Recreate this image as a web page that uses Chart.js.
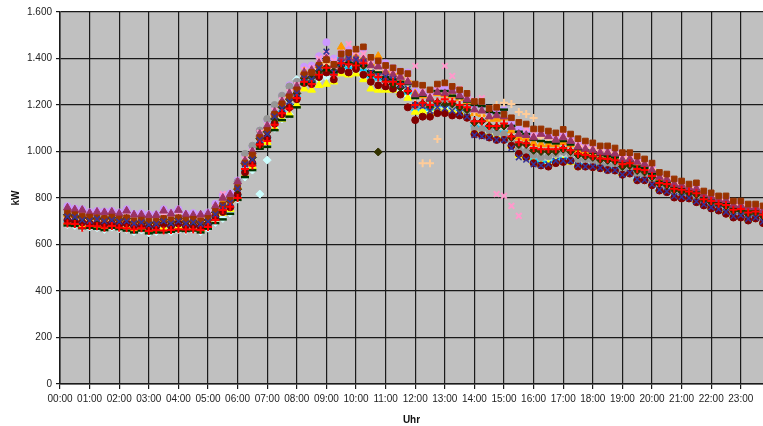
<!DOCTYPE html>
<html>
<head>
<meta charset="utf-8">
<script src="https://cdn.jsdelivr.net/npm/chart.js@4.4.1/dist/chart.umd.min.js"></script>
<style>
  html, body { margin: 0; padding: 0; background: #fff; overflow: hidden; }
  #wrap { width: 763px; height: 426px; }
  canvas { display: block; }
</style>
</head>
<body>
<div id="wrap"><canvas id="myChart" width="763" height="426"></canvas></div>
<script>
// quarter-hour load profiles, kW (0:15 ... 24:00)

const hourLabels = ['00:00','01:00','02:00','03:00','04:00','05:00','06:00','07:00','08:00','09:00','10:00','11:00',
                    '12:00','13:00','14:00','15:00','16:00','17:00','18:00','19:00','20:00','21:00','22:00','23:00'];

const redPlus = [690,688,672,680,678,672,680,672,670,664,670,658,662,660,662,666,664,664,662,675,
  705,748,762,800,925,940,1030,1045,1115,1165,1185,1230,
  1300,1290,1330,1360,1330,1380,1375,1370,1380,1330,1320,1300,1300,1290,1260,
  1200,1210,1200,1215,1225,1215,1200,1190,1130,1130,1110,1110,1120,
  1065,1040,1035,1015,1010,1010,1010,1015,1005,990,985,980,970,968,962,945,950,925,920,895,
  865,860,840,835,828,820,795,787,775,770,750,753,738,742,728,725];

const blueX = [720,718,705,702,710,700,705,698,700,690,695,685,688,700,690,700,690,695,688,698,
  730,765,780,840,945,965,1050,1075,1150,1185,1215,1250,
  1315,1310,1360,1430,1340,1380,1400,1395,1385,1340,1325,1320,1310,1285,1270,
  1200,1195,1175,1190,1185,1175,1165,1150,1070,1065,1060,1050,1050,
  1015,975,965,945,940,945,960,960,960,940,935,935,930,920,920,900,908,880,878,858,
  835,828,808,805,800,785,772,760,752,740,722,725,710,715,698,698];

const brownSquare = [735,728,722,718,715,712,718,710,715,702,705,700,700,712,706,715,705,708,702,712,
  742,770,790,845,950,985,1060,1090,1160,1205,1235,1265,
  1330,1340,1370,1395,1375,1420,1425,1440,1450,1405,1390,1370,1360,1345,1335,
  1290,1285,1265,1290,1295,1280,1265,1250,1215,1215,1185,1190,1160,
  1145,1125,1118,1097,1097,1088,1080,1095,1075,1055,1045,1037,1024,1024,1015,995,995,980,968,950,
  910,903,882,873,860,865,830,822,809,809,787,787,774,774,766,760];

const maroonTri = [758,750,748,735,740,738,740,732,745,728,728,725,726,745,732,748,728,726,728,732,
  765,800,815,870,960,1000,1075,1110,1170,1215,1250,1280,
  1340,1350,1380,1400,1370,1400,1405,1400,1395,1370,1365,1340,1330,1320,1300,
  1245,1250,1230,1255,1250,1260,1240,1225,1180,1175,1150,1155,1150,
  1105,1075,1070,1060,1075,1065,1050,1060,1045,1020,1010,1005,995,995,990,965,968,955,945,920,
  890,880,860,855,845,840,815,805,795,790,770,768,760,760,745,742];

const darkRedDot = [705,700,695,690,690,688,692,686,690,680,684,675,678,688,680,690,680,682,676,688,
  720,740,760,815,910,950,1030,1060,1120,1160,1190,1225,
  1295,1290,1320,1340,1310,1350,1340,1355,1330,1300,1285,1280,1270,1245,1190,
  1135,1150,1150,1165,1165,1155,1155,1145,1075,1070,1060,1050,1050,
  1025,990,975,950,940,935,950,955,960,935,935,932,928,920,918,900,905,876,876,855,
  832,825,802,798,798,782,768,755,746,732,716,716,703,712,692,692];

const oliveDiamond = [728,722,715,712,712,710,715,705,712,696,700,692,695,708,698,712,698,700,694,705,
  738,765,785,838,948,975,1055,1085,1140,1190,1225,1250,
  1315,1320,1345,1360,1345,1375,1380,1375,1370,1330,998,1310,1290,1275,1260,
  1200,1205,1190,1210,1200,1205,1190,1180,1125,1130,1110,1105,1110,
  1060,1030,1030,1005,1000,1000,1000,1010,1000,985,980,975,965,962,958,935,940,918,912,890,
  862,855,835,828,820,815,790,782,770,765,745,745,730,735,722,720];

const grayDot = [712,706,700,698,698,696,700,692,698,686,690,682,684,694,688,698,688,690,686,700,
  738,775,800,870,990,1025,1090,1140,1200,1240,1280,1300,
  1320,1310,1340,1370,1350,1380,1385,1385,1370,1335,1330,1310,1300,1290,1265,
  1195,1200,1195,1205,1210,1200,1190,1175,1100,1095,1090,1080,1075,
  1040,1010,1000,985,975,980,990,1000,990,965,965,960,948,940,940,920,925,900,895,875,
  850,842,820,815,810,800,780,770,762,752,730,732,718,722,705,705];

const yellowTri = [695,690,680,684,682,676,684,678,676,668,672,662,665,672,668,675,670,670,666,680,
  712,735,752,805,900,935,1025,1040,1100,1140,1160,1200,
  1270,1265,1285,1290,1300,1335,1330,1335,1310,1270,1265,1265,1265,1250,1230,
  1170,1175,1165,1185,1180,1175,1170,1160,1090,1080,1075,1065,1065,
  1025,985,975,955,945,945,955,958,955,935,938,935,930,925,922,905,910,880,880,860,
  838,830,810,805,802,790,775,762,752,742,722,722,708,716,698,698];

const orangeTri = [730,725,718,712,715,710,712,706,712,700,702,695,698,710,702,712,700,702,698,708,
  745,780,795,850,960,990,1070,1100,1165,1210,1245,1275,
  1345,1345,1370,1390,1360,1450,1410,1410,1400,1380,1410,1350,1340,1325,1310,
  1250,1240,1230,1250,1245,1240,1230,1215,1165,1160,1140,1140,1145,
  1090,1060,1055,1035,1030,1030,1030,1040,1030,1005,1000,998,990,985,980,958,960,945,935,915,
  880,875,855,848,842,835,808,800,790,785,765,765,752,755,740,738];

const greenDash = [682,680,670,672,668,662,672,666,660,652,660,648,652,652,655,660,658,660,652,668,
  692,708,732,792,890,920,1012,1020,1092,1135,1150,1190,
  1290,1300,1330,1350,1340,1370,1380,1370,1370,1345,1340,1320,1310,1300,1290,
  1230,1240,1220,1260,1260,1240,1230,1215,1200,1195,1170,1165,1180,
  1110,1085,1075,1050,1045,1040,1035,1045,1030,1010,1005,995,985,980,975,955,958,935,930,905,
  870,865,845,838,830,825,800,790,780,775,755,755,742,745,730,728];

const cyanDiamond = [685,682,672,675,672,665,675,668,665,655,662,650,655,658,656,662,660,662,655,670,
  695,712,735,795,890,920,817,963,1100,1140,1160,1310,
  1300,1295,1310,1320,1310,1345,1340,1345,1320,1300,1290,1280,1275,1260,1240,
  1180,1185,1175,1195,1190,1185,1175,1165,1100,1090,1085,1075,1075,
  1035,995,985,960,950,950,960,965,960,940,938,935,935,925,925,905,912,885,880,860,
  840,832,812,806,802,790,775,765,755,745,725,725,712,716,700,700];

const pinkStar = [740,735,730,725,725,722,726,718,725,712,715,708,710,725,715,728,712,715,710,720,
  760,817,805,855,965,1000,1080,1110,1175,1220,1255,1285,
  1350,1360,1400,1420,1390,1425,1462,1430,1420,1390,1380,1360,1350,1335,1320,
  1368,1270,1250,1275,1368,1325,1270,1245,1220,1230,1185,817,809,
  766,723,1100,1080,1075,1070,1060,1075,1060,1040,1030,1020,1010,1010,1000,985,985,970,958,940,
  895,890,870,862,850,850,820,810,800,800,778,778,765,765,752,750];

const peachPlus = [715,710,705,700,702,698,702,695,700,688,692,685,688,698,690,700,690,692,688,698,
  730,760,780,838,950,980,1065,1095,1150,1195,1230,1260,
  1325,1330,1355,1375,1355,1390,1395,1400,1385,1350,1345,1330,1320,1305,1290,
  1230,950,950,1054,1250,1240,1230,1215,1170,1165,1150,1200,1210,
  1204,1170,1161,1144,1060,1055,1050,1060,1050,1025,1020,1015,1005,1000,995,972,975,955,948,925,
  890,885,862,855,848,842,815,808,795,790,770,770,758,760,745,744];

const lilacDot = [765,755,752,740,745,742,745,738,752,732,735,730,730,752,738,752,732,735,730,738,
  775,812,820,875,985,1020,1090,1135,1195,1240,1285,1305,
  1365,1370,1410,1470,1400,1420,1440,1420,1440,1400,1390,1380,1360,1345,1340,
  1260,1255,1245,1270,1275,1270,1255,1240,1200,1200,1170,1175,1180,
  1120,1095,1090,1070,1075,1065,1060,1075,1055,1035,1025,1020,1010,1008,1000,980,982,965,955,935,
  895,890,870,862,852,852,822,815,802,800,780,780,768,768,758,755];

const skyDash = [700,695,690,688,688,684,690,682,686,676,680,672,676,684,678,688,678,680,674,686,
  715,740,760,812,915,945,1035,1060,1125,1170,1200,1235,
  1310,1310,1335,1350,1330,1400,1360,1365,1350,1320,1310,1300,1290,1275,1250,
  1180,1185,1180,1195,1200,1190,1180,1170,1110,1105,1095,1085,1085,
  1040,1000,990,965,955,955,965,970,960,945,942,940,935,928,925,905,908,882,880,855,
  832,825,802,798,796,780,768,754,744,732,715,716,700,710,690,690];

// first entry is drawn on top by Chart.js
const seriesList = [
  {data: redPlus,      color: 'rgb(255,0,0)',     style: 'cross',    r: 4,   bw: 2},
  {data: blueX,        color: 'rgb(51,51,153)',   style: 'crossRot', r: 4,   bw: 1.5},
  {data: brownSquare,  color: 'rgb(153,51,0)',    style: 'rect',     r: 4,   bw: 1},
  {data: maroonTri,    color: 'rgb(153,51,102)',  style: 'triangle', r: 4.5, bw: 1},
  {data: greenDash,    color: 'rgb(0,51,0)',      style: 'line',     r: 4,   bw: 2.5},
  {data: oliveDiamond, color: 'rgb(51,51,0)',     style: 'rectRot',  r: 4,   bw: 1},
  {data: darkRedDot,   color: 'rgb(128,0,0)',     style: 'circle',   r: 3.5, bw: 1},
  {data: pinkStar,     color: 'rgb(255,153,204)', style: 'crossRot', r: 4,   bw: 2},
  {data: peachPlus,    color: 'rgb(255,204,153)', style: 'cross',    r: 4,   bw: 2},
  {data: orangeTri,    color: 'rgb(255,153,0)',   style: 'triangle', r: 4.5, bw: 1},
  {data: grayDot,      color: 'rgb(150,150,150)', style: 'circle',   r: 3.5, bw: 1},
  {data: yellowTri,    color: 'rgb(255,255,0)',   style: 'triangle', r: 4.5, bw: 1},
  {data: skyDash,      color: 'rgb(0,204,255)',   style: 'line',     r: 4,   bw: 2.5},
  {data: cyanDiamond,  color: 'rgb(204,255,255)', style: 'rectRot',  r: 4,   bw: 1},
  {data: lilacDot,     color: 'rgb(204,153,255)', style: 'circle',   r: 3.5, bw: 1},
];

// quarter hour index -> hours
function toPoints(values) {
  return values.map((v, i) => ({x: (i + 1) / 4, y: v}));
}

function germanNumber(v) {
  return String(v).replace(/\B(?=(\d{3})+(?!\d))/g, '.');
}

const plotBackground = {
  id: 'plotBackground',
  beforeDraw(chart) {
    const a = chart.chartArea;
    const ctx = chart.ctx;
    ctx.save();
    ctx.fillStyle = '#c0c0c0';
    ctx.fillRect(a.left, a.top, a.right - a.left, a.bottom - a.top);
    ctx.restore();
  }
};

const data = {
  datasets: seriesList.map(s => ({
    data: toPoints(s.data),
    pointStyle: s.style,
    pointRadius: s.r,
    pointBorderWidth: s.bw,
    backgroundColor: s.color,
    borderColor: s.color,
    showLine: false,
  }))
};

const config = {
  type: 'scatter',
  data: data,
  options: {
    responsive: false,
    animation: false,
    layout: {autoPadding: false, padding: {top: 12, right: 0, bottom: 0, left: 0}},
    plugins: {legend: {display: false}, tooltip: {enabled: false}},
    scales: {
      x: {
        type: 'linear',
        min: 0,
        max: 23.75,
        afterBuildTicks: axis => {
          axis.ticks = hourLabels.map((l, i) => ({value: i}));
        },
        ticks: {
          stepSize: 1,
          autoSkip: false,
          maxRotation: 0,
          padding: 4,
          color: '#222',
          font: {family: 'Liberation Sans, Arial, sans-serif', size: 10},
          callback: v => hourLabels[v],
        },
        grid: {color: '#1a1a1a', lineWidth: 1.2, tickLength: 5, tickColor: '#1a1a1a'},
        border: {color: '#1a1a1a', width: 1.5},
        title: {
          display: true,
          text: 'Uhr',
          color: '#111',
          font: {family: 'Liberation Sans, Arial, sans-serif', size: 10, weight: 'bold'},
          padding: {top: 5, bottom: 0},
        },
      },
      y: {
        min: 0,
        max: 1600,
        ticks: {
          stepSize: 200,
          padding: 4,
          color: '#222',
          font: {family: 'Liberation Sans, Arial, sans-serif', size: 10},
          callback: v => germanNumber(v),
        },
        grid: {color: '#1a1a1a', lineWidth: 1.2, tickLength: 4, tickColor: '#1a1a1a'},
        border: {color: '#1a1a1a', width: 1.5},
        title: {
          display: true,
          text: 'kW',
          color: '#111',
          font: {family: 'Liberation Sans, Arial, sans-serif', size: 10, weight: 'bold'},
          padding: {top: 10, bottom: 1},
        },
      },
    },
  },
  plugins: [plotBackground],
};

const myChart = new Chart(document.getElementById('myChart'), config);
</script>
</body>
</html>
